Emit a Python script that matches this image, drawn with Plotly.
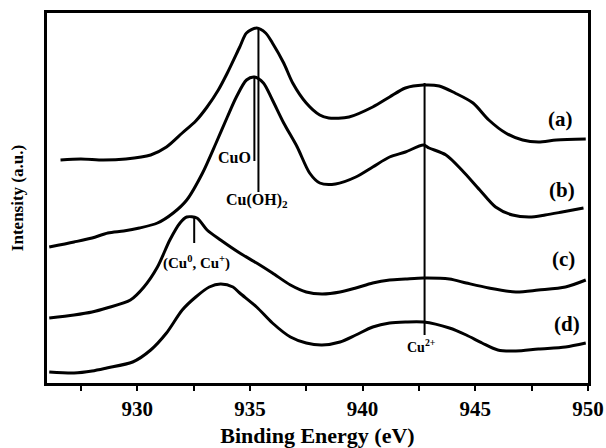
import plotly.graph_objects as go

# Binding energy (eV) and intensity (a.u.)
energy_a = [926.6,927.5,928.5,929.5,930.6,931.3,932.0,932.6,933.1,933.6,934.0,934.55,934.85,935.3,935.7,936.0,936.5,936.9,937.5,938.1,938.5,939.4,940.45,941.2,941.9,942.7,943.4,944.1,944.9,945.6,946.35,947.1,947.8,948.6,949.9]
intensity_a = [223,224,223,224,228,236,250,262,276,293,310,336,350,355,350,340,320,300,280,268,265,266,276,286,295,298,297,290,280,263,250,243,241,243,244]

energy_b = [926.1,927.2,928.0,928.7,929.4,930.1,930.9,931.6,932.2,932.9,933.5,934.0,934.4,934.85,935.2,935.6,936.0,936.5,937.1,937.65,938.1,938.8,939.7,940.45,941.2,941.9,942.7,942.95,943.7,944.4,945.2,945.9,946.65,947.4,948.1,948.85,949.8]
intensity_b = [136,141,145,150,152,155,160,170,183,210,240,266,286,303,306,300,283,260,236,210,200,199,206,216,226,231,238,235,228,213,193,176,168,166,168,171,175]

energy_c = [926.1,927.2,928.0,928.65,929.7,930.3,930.9,931.45,931.9,932.2,932.65,933.1,933.7,934.55,935.3,936.0,936.8,937.5,938.2,939.0,939.7,940.45,941.2,941.9,942.7,943.85,944.6,945.6,946.8,947.8,949.0,949.9]
intensity_c = [65,68,71,75,83,96,116,143,160,166,165,153,143,130,120,110,98,91,89,91,95,100,103,104,105,104,100,95,91,93,96,103]

energy_d = [926.1,927.2,928.0,928.65,929.8,930.6,931.3,932.0,932.6,933.2,933.7,934.25,934.55,935.3,936.0,936.8,937.5,938.2,939.0,939.7,940.45,941.2,941.9,942.7,943.85,944.6,945.3,946.0,946.8,947.8,949.0,949.9]
intensity_d = [11,10,12,15,21,33,50,73,86,96,99,96,90,76,60,46,40,38,41,48,56,60,61,61,55,48,40,33,32,34,36,40]

# Marker lines: (energy, top intensity, bottom intensity)
marker_energy = [935.2, 935.38, 932.53, 942.75]
marker_top = [305, 355, 165, 300]
marker_bottom = [222, 191, 140, 48]

curve_labels = ["(a)", "(b)", "(c)", "(d)"]
curve_label_x = [948.8, 948.85, 948.9, 949.05]
curve_label_y = [264, 193, 124, 59]

x_ticks = [930, 935, 940, 945, 950]

fig = go.Figure()
for e, i in [(energy_a, intensity_a), (energy_b, intensity_b), (energy_c, intensity_c), (energy_d, intensity_d)]:
    fig.add_trace(go.Scatter(x=e, y=i, mode="lines",
                             line=dict(color="black", width=3, shape="spline", smoothing=0.8),
                             showlegend=False, hoverinfo="skip"))

for xe, yt, yb in zip(marker_energy, marker_top, marker_bottom):
    fig.add_trace(go.Scatter(x=[xe, xe], y=[yb, yt], mode="lines", line=dict(color="black", width=2),
                             showlegend=False, hoverinfo="skip"))

serif = "Liberation Serif"
anns = [
    dict(x=935.12, y=226, text="CuO", xanchor="right", yanchor="middle", size=16),
    dict(x=935.3, y=183, text="Cu(OH)<sub>2</sub>", xanchor="center", yanchor="middle", size=16),
    dict(x=932.65, y=121, text="(Cu<sup>0</sup>, Cu<sup>+</sup>)", xanchor="center", yanchor="middle", size=15),
    dict(x=942.6, y=37, text="Cu<sup>2+</sup>", xanchor="center", yanchor="middle", size=14),
]
for a in anns:
    size = a.pop("size")
    fig.add_annotation(showarrow=False, font=dict(family=serif, size=size, color="black", weight="bold"), **a)
for t, x, y in zip(curve_labels, curve_label_x, curve_label_y):
    fig.add_annotation(x=x, y=y, text=t, showarrow=False, xanchor="center", yanchor="middle",
                       font=dict(family=serif, size=21, color="black", weight="bold"))

fig.update_layout(
    width=606, height=448,
    margin=dict(l=47, r=18, t=13, b=65),
    paper_bgcolor="white", plot_bgcolor="white",
    xaxis=dict(range=[926, 950], tickvals=x_ticks, ticks="outside", ticklen=5, tickwidth=2,
               tickcolor="black", showline=True, linecolor="black", linewidth=2.5, mirror=True,
               showgrid=False, zeroline=False, automargin=False,
               minor=dict(dtick=2.5, tick0=927.5, ticks="outside", ticklen=5, tickwidth=2, tickcolor="black"),
               tickfont=dict(family=serif, size=21, color="black", weight="bold"),
               title=dict(text="Binding Energy (eV)", standoff=8,
                          font=dict(family=serif, size=22, color="black", weight="bold"))),
    yaxis=dict(range=[0, 370], showticklabels=False, ticks="", showline=True, linecolor="black",
               linewidth=2.5, mirror=True, showgrid=False, zeroline=False, automargin=False,
               title=dict(text="Intensity (a.u.)", standoff=17,
                          font=dict(family=serif, size=17, color="black", weight="bold"))),
)

fig.write_html("out.html")
